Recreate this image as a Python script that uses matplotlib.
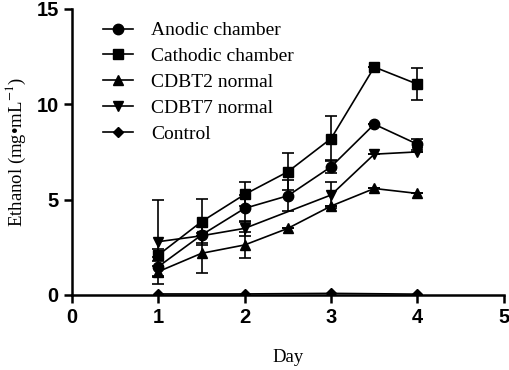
import matplotlib
matplotlib.use("Agg")
import matplotlib.pyplot as plt
from matplotlib.lines import Line2D

# values
anodic_x = [1, 1.5, 2, 2.5, 3, 3.5, 4]
anodic_y = [1.48, 3.14, 4.54, 5.2, 6.72, 8.95, 7.9]
anodic_err = [0.5, 0.4, 0.7, 0.8, 0.35, 0.0, 0.3]

cathodic_x = [1, 1.5, 2, 2.5, 3, 3.5, 4]
cathodic_y = [2.09, 3.84, 5.27, 6.46, 8.2, 11.95, 11.05]
cathodic_err = [0.3, 1.2, 0.63, 0.96, 1.2, 0.0, 0.85]

cdbt2_x = [1, 1.5, 2, 2.5, 3, 3.5, 4]
cdbt2_y = [1.22, 2.18, 2.62, 3.49, 4.66, 5.58, 5.32]
cdbt2_err = [0.3, 1.05, 0.7, 0.0, 0.0, 0.0, 0.0]

cdbt7_x = [1, 1.5, 2, 3, 3.5, 4]
cdbt7_y = [2.79, 3.1, 3.49, 5.24, 7.38, 7.5]
cdbt7_err = [2.2, 0.0, 0.4, 0.7, 0.0, 0.0]

control_x = [1, 2, 3, 4]
control_y = [0.05, 0.05, 0.08, 0.04]

plt.rcParams["font.family"] = "Liberation Serif"
plt.rcParams["mathtext.fontset"] = "stix"
fig = plt.figure(figsize=(5.1, 3.7), dpi=100)
ax = fig.add_axes([0.141, 0.203, 0.847, 0.773])

series = [
    ("Anodic chamber", anodic_x, anodic_y, anodic_err, "o", 7.5),
    ("Cathodic chamber", cathodic_x, cathodic_y, cathodic_err, "s", 7.5),
    ("CDBT2 normal", cdbt2_x, cdbt2_y, cdbt2_err, "^", 7.5),
    ("CDBT7 normal", cdbt7_x, cdbt7_y, cdbt7_err, "v", 7.5),
]
handles = []
for name, x, y, err, m, ms in series:
    ax.errorbar(x, y, yerr=err, color="black", marker=m, markersize=ms,
                linewidth=1.2, elinewidth=1.2, capsize=4, capthick=1.2)
    handles.append(Line2D([], [], color="black", marker=m, markersize=ms,
                          linewidth=1.2, label=name))
ax.plot(control_x, control_y, color="black", marker="D", markersize=5.5,
        linewidth=1.2)
handles.append(Line2D([], [], color="black", marker="D", markersize=5.5,
                      linewidth=1.2, label="Control"))

ax.set_xlim(0, 5)
ax.set_ylim(0, 15)
ax.set_xticks([0, 1, 2, 3, 4, 5])
ax.set_yticks([0, 5, 10, 15])
for s in ["top", "right"]:
    ax.spines[s].set_visible(False)
for s in ["left", "bottom"]:
    ax.spines[s].set_linewidth(1.8)
ax.tick_params(width=1.8, length=6, labelsize=14.5)
for lab in ax.get_xticklabels() + ax.get_yticklabels():
    lab.set_family("Liberation Sans")
    lab.set_fontweight("bold")

ax.set_xlabel("Day", fontsize=13.5, labelpad=16)
ax.set_ylabel("Ethanol (mg\u2022mL$^{-1}$)", fontsize=13.5, labelpad=6)

ax.legend(handles=handles, loc="upper left", bbox_to_anchor=(0.031, 1.016),
          frameon=False, fontsize=14, handlelength=1.55, labelspacing=0.42,
          handletextpad=0.95)

fig.savefig("out.png", dpi=100)
